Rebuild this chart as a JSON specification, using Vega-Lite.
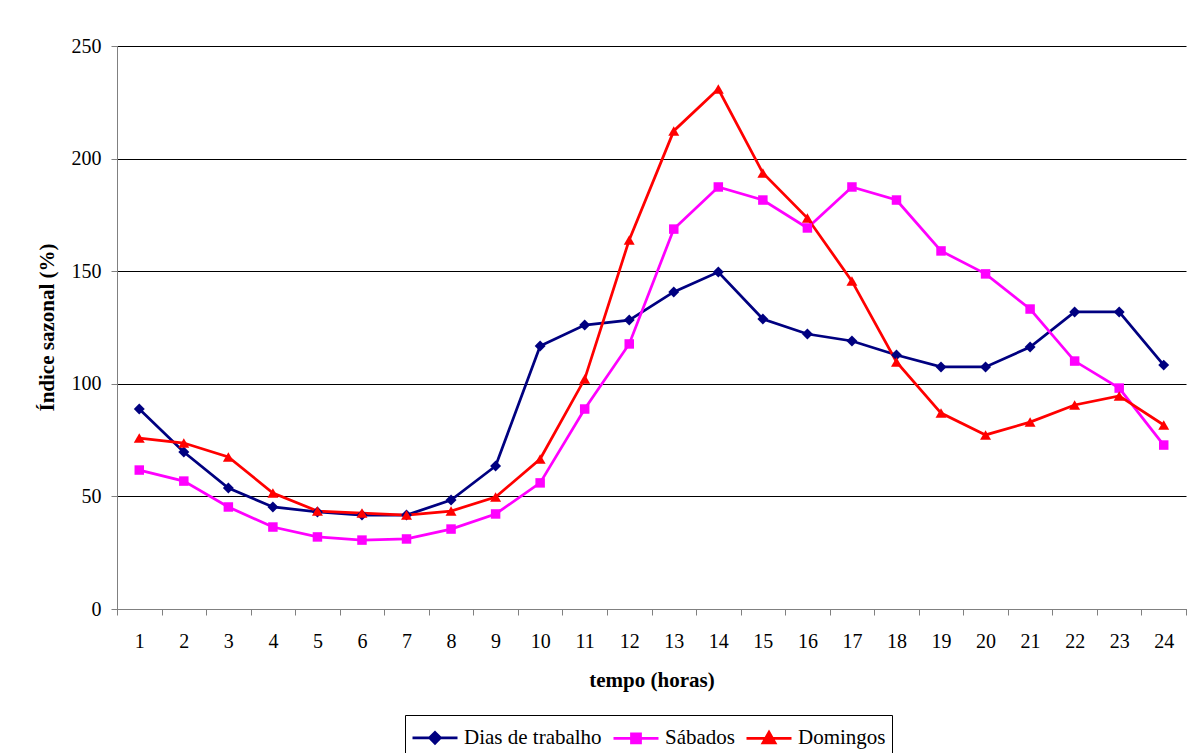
{
  "$schema": "https://vega.github.io/schema/vega-lite/v6.json",
  "width": 1069,
  "height": 563,
  "autosize": {"type": "none"},
  "padding": {"left": 117, "top": 46, "right": 3, "bottom": 144},
  "background": "white",
  "config": {
    "view": {"stroke": null},
    "font": "Liberation Serif"
  },
  "data": {
    "values": [
      {"hora": 1, "serie": "Dias de trabalho", "valor": 88.8},
      {"hora": 2, "serie": "Dias de trabalho", "valor": 69.7},
      {"hora": 3, "serie": "Dias de trabalho", "valor": 53.7},
      {"hora": 4, "serie": "Dias de trabalho", "valor": 45.3},
      {"hora": 5, "serie": "Dias de trabalho", "valor": 43.1},
      {"hora": 6, "serie": "Dias de trabalho", "valor": 41.7},
      {"hora": 7, "serie": "Dias de trabalho", "valor": 41.7},
      {"hora": 8, "serie": "Dias de trabalho", "valor": 48.4},
      {"hora": 9, "serie": "Dias de trabalho", "valor": 63.5},
      {"hora": 10, "serie": "Dias de trabalho", "valor": 116.8},
      {"hora": 11, "serie": "Dias de trabalho", "valor": 126.1},
      {"hora": 12, "serie": "Dias de trabalho", "valor": 128.3},
      {"hora": 13, "serie": "Dias de trabalho", "valor": 140.8},
      {"hora": 14, "serie": "Dias de trabalho", "valor": 149.6},
      {"hora": 15, "serie": "Dias de trabalho", "valor": 128.8},
      {"hora": 16, "serie": "Dias de trabalho", "valor": 122.1},
      {"hora": 17, "serie": "Dias de trabalho", "valor": 119.0},
      {"hora": 18, "serie": "Dias de trabalho", "valor": 112.8},
      {"hora": 19, "serie": "Dias de trabalho", "valor": 107.5},
      {"hora": 20, "serie": "Dias de trabalho", "valor": 107.5},
      {"hora": 21, "serie": "Dias de trabalho", "valor": 116.3},
      {"hora": 22, "serie": "Dias de trabalho", "valor": 131.9},
      {"hora": 23, "serie": "Dias de trabalho", "valor": 131.9},
      {"hora": 24, "serie": "Dias de trabalho", "valor": 108.3},
      {"hora": 1, "serie": "Sábados", "valor": 61.7},
      {"hora": 2, "serie": "Sábados", "valor": 56.8},
      {"hora": 3, "serie": "Sábados", "valor": 45.3},
      {"hora": 4, "serie": "Sábados", "valor": 36.4},
      {"hora": 5, "serie": "Sábados", "valor": 32.0},
      {"hora": 6, "serie": "Sábados", "valor": 30.6},
      {"hora": 7, "serie": "Sábados", "valor": 31.1},
      {"hora": 8, "serie": "Sábados", "valor": 35.5},
      {"hora": 9, "serie": "Sábados", "valor": 42.2},
      {"hora": 10, "serie": "Sábados", "valor": 56.0},
      {"hora": 11, "serie": "Sábados", "valor": 88.8},
      {"hora": 12, "serie": "Sábados", "valor": 117.7},
      {"hora": 13, "serie": "Sábados", "valor": 168.7},
      {"hora": 14, "serie": "Sábados", "valor": 187.4},
      {"hora": 15, "serie": "Sábados", "valor": 181.6},
      {"hora": 16, "serie": "Sábados", "valor": 169.2},
      {"hora": 17, "serie": "Sábados", "valor": 187.4},
      {"hora": 18, "serie": "Sábados", "valor": 181.6},
      {"hora": 19, "serie": "Sábados", "valor": 159.0},
      {"hora": 20, "serie": "Sábados", "valor": 148.8},
      {"hora": 21, "serie": "Sábados", "valor": 133.2},
      {"hora": 22, "serie": "Sábados", "valor": 110.1},
      {"hora": 23, "serie": "Sábados", "valor": 98.1},
      {"hora": 24, "serie": "Sábados", "valor": 72.8},
      {"hora": 1, "serie": "Domingos", "valor": 75.9},
      {"hora": 2, "serie": "Domingos", "valor": 73.7},
      {"hora": 3, "serie": "Domingos", "valor": 67.5},
      {"hora": 4, "serie": "Domingos", "valor": 51.5},
      {"hora": 5, "serie": "Domingos", "valor": 43.5},
      {"hora": 6, "serie": "Domingos", "valor": 42.6},
      {"hora": 7, "serie": "Domingos", "valor": 41.7},
      {"hora": 8, "serie": "Domingos", "valor": 43.5},
      {"hora": 9, "serie": "Domingos", "valor": 49.7},
      {"hora": 10, "serie": "Domingos", "valor": 66.6},
      {"hora": 11, "serie": "Domingos", "valor": 102.1},
      {"hora": 12, "serie": "Domingos", "valor": 163.9},
      {"hora": 13, "serie": "Domingos", "valor": 212.3},
      {"hora": 14, "serie": "Domingos", "valor": 230.9},
      {"hora": 15, "serie": "Domingos", "valor": 193.6},
      {"hora": 16, "serie": "Domingos", "valor": 173.6},
      {"hora": 17, "serie": "Domingos", "valor": 145.6},
      {"hora": 18, "serie": "Domingos", "valor": 109.7},
      {"hora": 19, "serie": "Domingos", "valor": 87.0},
      {"hora": 20, "serie": "Domingos", "valor": 77.3},
      {"hora": 21, "serie": "Domingos", "valor": 83.0},
      {"hora": 22, "serie": "Domingos", "valor": 90.6},
      {"hora": 23, "serie": "Domingos", "valor": 94.6},
      {"hora": 24, "serie": "Domingos", "valor": 81.7}
    ]
  },
  "encoding": {
    "x": {
      "field": "hora", "type": "ordinal",
      "scale": {"type": "band", "paddingInner": 0, "paddingOuter": 0},
      "axis": {"title": "tempo (horas)", "titleFont": "Liberation Serif", "titleFontSize": 21, "titleFontWeight": "bold", "titleColor": "black", "labelFont": "Liberation Serif", "labelFontSize": 20, "labelColor": "black", "labelAngle": 0, "tickBand": "extent", "tickSize": 6, "tickColor": "#808080", "domainColor": "#808080", "labelPadding": 16, "titleY": 71, "titleBaseline": "middle", "grid": false}
    },
    "y": {
      "field": "valor", "type": "quantitative",
      "scale": {"domain": [0, 250]},
      "axis": {"title": "Índice sazonal (%)", "titleFont": "Liberation Serif", "titleFontSize": 21, "titleFontWeight": "bold", "titleColor": "black", "labelFont": "Liberation Serif", "labelFontSize": 20, "labelColor": "black", "values": [0, 50, 100, 150, 200, 250], "tickSize": 6, "tickColor": "#808080", "domainColor": "#808080", "labelPadding": 10, "grid": true, "gridColor": "#000000", "gridWidth": 1, "titleX": -70, "titleY": 281, "titleAngle": -90, "titleAlign": "center", "titleBaseline": "middle"}
    },
    "color": {
      "field": "serie", "type": "nominal",
      "scale": {"domain": ["Dias de trabalho", "Sábados", "Domingos"], "range": ["#000080", "#FF00FF", "#FF0000"]}
    }
  },
  "layer": [
    {
      "mark": {"type": "line", "strokeWidth": 2.75},
      "encoding": {
        "color": {
          "field": "serie", "type": "nominal",
          "scale": {"domain": ["Dias de trabalho", "Sábados", "Domingos"], "range": ["#000080", "#FF00FF", "#FF0000"]},
          "legend": {
            "title": null, "orient": "none", "legendX": 288, "legendY": 669, "direction": "horizontal",
            "strokeColor": "#000000", "padding": 6, "symbolSize": 900, "labelOffset": 20, "columnPadding": 6,
            "labelFont": "Liberation Serif", "labelFontSize": 21, "labelColor": "black",
            "encode": {
              "symbols": {
                "update": {
                  "shape": {"signal": "datum.value === 'Dias de trabalho' ? 'M-1,0H2M0.5,-0.36L0.86,0L0.5,0.36L0.14,0Z' : datum.value === 'Sábados' ? 'M-1,0H2M0.2,-0.3H0.8V0.3H0.2Z' : 'M-1,0H2M0.5,-0.4L0.9,0.3H0.1Z'"},
                  "fill": {"signal": "datum.value === 'Dias de trabalho' ? '#000080' : datum.value === 'Sábados' ? '#FF00FF' : '#FF0000'"},
                  "stroke": {"signal": "datum.value === 'Dias de trabalho' ? '#000080' : datum.value === 'Sábados' ? '#FF00FF' : '#FF0000'"},
                  "strokeWidth": {"value": 2.75},
                  "size": {"value": 900}
                }
              }
            }
          }
        }
      }
    },
    {
      "transform": [{"filter": "datum.serie === 'Dias de trabalho'"}],
      "mark": {"type": "point", "filled": true, "opacity": 1, "size": 120, "shape": "diamond", "color": "#000080"},
      "encoding": {"color": {"value": "#000080"}}
    },
    {
      "transform": [{"filter": "datum.serie === 'Sábados'"}],
      "mark": {"type": "point", "filled": true, "opacity": 1, "size": 90, "shape": "square", "color": "#FF00FF"},
      "encoding": {"color": {"value": "#FF00FF"}}
    },
    {
      "transform": [{"filter": "datum.serie === 'Domingos'"}],
      "mark": {"type": "point", "filled": true, "opacity": 1, "size": 120, "shape": "triangle-up", "color": "#FF0000"},
      "encoding": {"color": {"value": "#FF0000"}}
    }
  ]
}
